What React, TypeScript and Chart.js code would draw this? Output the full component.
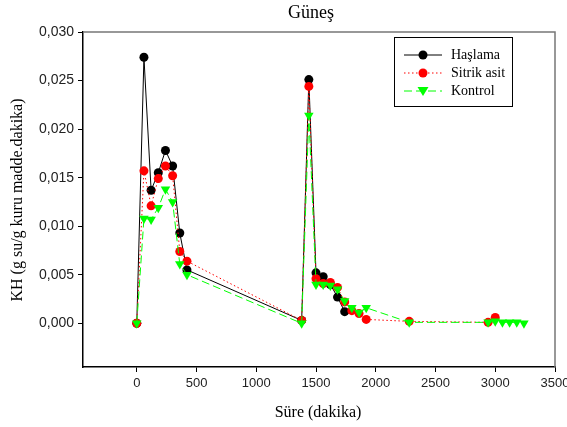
import React, { useEffect, useRef } from "react";
import { Chart, registerables } from "chart.js";

Chart.register(...registerables);

// Drying rate (KH) over time, three pretreatments
const haslamaTime = [0, 60, 120, 180, 240, 300, 360, 420, 1380, 1440, 1500, 1560, 1620, 1680, 1740];
const haslamaKH = [0, 0.0274, 0.0137, 0.0155, 0.0178, 0.0162, 0.0093, 0.0055, 0.0003, 0.0251, 0.0052, 0.0048, 0.004, 0.0027, 0.0012];

const sitrikTime = [0, 60, 120, 180, 240, 300, 360, 420, 1380, 1440, 1500, 1560, 1620, 1680, 1740, 1800, 1860, 1920, 2280, 2940, 3000];
const sitrikKH = [0, 0.0157, 0.0121, 0.0149, 0.0162, 0.0152, 0.0074, 0.0064, 0.0003, 0.0244, 0.0046, 0.0041, 0.0042, 0.0037, 0.0022, 0.0013, 0.001, 0.0004, 0.0002, 0.0001, 0.0006];

const kontrolTime = [0, 60, 120, 180, 240, 300, 360, 420, 1380, 1440, 1500, 1560, 1620, 1680, 1740, 1800, 1860, 1920, 2280, 2940, 3000, 3060, 3120, 3180, 3240];
const kontrolKH = [0, 0.0108, 0.0107, 0.0119, 0.0138, 0.0125, 0.0061, 0.005, 0.0, 0.0214, 0.004, 0.004, 0.0039, 0.0035, 0.0023, 0.0016, 0.0011, 0.0016, 0.0001, 0.0001, 0.0002, 0.0001, 0.0001, 0.0001, 0.0];

const seriesNames = ["Haşlama", "Sitrik asit", "Kontrol"];

const yTickValues = [0, 0.005, 0.01, 0.015, 0.02, 0.025, 0.03];
const yTickLabels = ["0,000", "0,005", "0,010", "0,015", "0,020", "0,025", "0,030"];
const xTickValues = [0, 500, 1000, 1500, 2000, 2500, 3000, 3500];
const xTickLabels = ["0", "500", "1000", "1500", "2000", "2500", "3000", "3500"];

const chartTitle = "Güneş";
const xTitle = "Süre (dakika)";
const yTitle = "KH (g su/g kuru madde.dakika)";

const SERIF = "'Liberation Serif', 'Times New Roman', serif";
const SANS = "'Liberation Sans', Arial, sans-serif";

const toPoints = (xs: number[], ys: number[]) => xs.map((x, i) => ({ x, y: ys[i] }));

const labelFor = (values: number[], labels: string[], v: number) => {
  const i = values.findIndex((t) => Math.abs(t - v) < 1e-9);
  return i >= 0 ? labels[i] : "";
};

function drawMarker(ctx: CanvasRenderingContext2D, kind: string, x: number, y: number, color: string) {
  ctx.save();
  ctx.fillStyle = color;
  ctx.beginPath();
  if (kind === "circle") {
    ctx.arc(x, y, 4.5, 0, Math.PI * 2);
  } else {
    ctx.moveTo(x - 5.5, y - 4);
    ctx.lineTo(x + 5.5, y - 4);
    ctx.lineTo(x, y + 5);
    ctx.closePath();
  }
  ctx.fill();
  ctx.restore();
}

const decorations = {
  id: "decorations",
  afterDraw(chart: Chart) {
    const { ctx, chartArea } = chart;
    const { left, right, top, bottom } = chartArea;
    ctx.save();

    // frame on top and right
    ctx.strokeStyle = "#777";
    ctx.lineWidth = 1.5;
    ctx.beginPath();
    ctx.moveTo(left, top);
    ctx.lineTo(right, top);
    ctx.lineTo(right, bottom);
    ctx.stroke();

    // title and axis titles
    ctx.fillStyle = "#000";
    ctx.textAlign = "center";
    ctx.textBaseline = "middle";
    ctx.font = `18px ${SERIF}`;
    ctx.fillText(chartTitle, 311, 13);
    ctx.font = `16px ${SERIF}`;
    ctx.fillText(xTitle, 318, 413);
    ctx.save();
    ctx.translate(18, 200);
    ctx.rotate(-Math.PI / 2);
    ctx.fillText(yTitle, 0, 0);
    ctx.restore();

    // legend box
    const bx = 394.5, by = 37.5, bw = 118, bh = 69;
    ctx.fillStyle = "#fff";
    ctx.fillRect(bx, by, bw, bh);
    ctx.strokeStyle = "#000";
    ctx.lineWidth = 1;
    ctx.strokeRect(bx, by, bw, bh);
    const rows = [
      { y: 55, color: "#000", dash: [] as number[], marker: "circle" },
      { y: 73, color: "#ff0000", dash: [1.5, 2.5], marker: "circle" },
      { y: 91, color: "#00ff00", dash: [8, 4], marker: "triangle" },
    ];
    rows.forEach((r, i) => {
      ctx.save();
      ctx.strokeStyle = r.color;
      ctx.lineWidth = 1;
      ctx.setLineDash(r.dash);
      ctx.beginPath();
      ctx.moveTo(404, r.y);
      ctx.lineTo(442, r.y);
      ctx.stroke();
      ctx.restore();
      drawMarker(ctx, r.marker, 423, r.y, r.color);
      ctx.fillStyle = "#000";
      ctx.textAlign = "left";
      ctx.textBaseline = "middle";
      ctx.font = `14px ${SERIF}`;
      ctx.fillText(seriesNames[i], 451, r.y);
    });
    ctx.restore();
  },
};

export default function App() {
  const canvasRef = useRef<HTMLCanvasElement | null>(null);

  useEffect(() => {
    document.body.style.margin = "0";
    const canvas = canvasRef.current;
    if (!canvas) return;

    const chart = new Chart(canvas, {
      type: "line",
      data: {
        datasets: [
          {
            label: seriesNames[0],
            data: toPoints(haslamaTime, haslamaKH),
            borderColor: "#000",
            backgroundColor: "#000",
            borderWidth: 1,
            pointStyle: "circle",
            pointRadius: 4.5,
            pointBorderWidth: 0,
            order: 2,
          },
          {
            label: seriesNames[1],
            data: toPoints(sitrikTime, sitrikKH),
            borderColor: "#ff0000",
            backgroundColor: "#ff0000",
            borderWidth: 1,
            borderDash: [1.5, 2.5],
            pointStyle: "circle",
            pointRadius: 4.5,
            pointBorderWidth: 0,
            order: 1,
          },
          {
            label: seriesNames[2],
            data: toPoints(kontrolTime, kontrolKH),
            borderColor: "#00ff00",
            backgroundColor: "#00ff00",
            borderWidth: 1,
            borderDash: [8, 4],
            pointStyle: "triangle",
            pointRotation: 180,
            pointRadius: 5.5,
            pointBorderWidth: 0,
            order: 0,
          },
        ],
      },
      options: {
        responsive: false,
        animation: false,
        devicePixelRatio: 1,
        layout: { padding: { left: 0, top: 32, right: 12, bottom: 0 } },
        plugins: {
          legend: { display: false },
          title: { display: false },
          tooltip: { enabled: false },
        },
        elements: { line: { tension: 0 } },
        scales: {
          x: {
            type: "linear",
            min: -450,
            max: 3500,
            afterBuildTicks: (s: any) => {
              s.ticks = xTickValues.map((v) => ({ value: v }));
            },
            afterFit: (s: any) => {
              s.height = 60;
              s.paddingLeft = 0;
              s.paddingRight = 0;
            },
            ticks: {
              callback: (v: any) => labelFor(xTickValues, xTickLabels, Number(v)),
              font: { family: SANS, size: 13 },
              color: "#222",
              padding: 4,
              maxRotation: 0,
              autoSkip: false,
            },
            grid: { display: true, drawOnChartArea: false, drawTicks: true, tickLength: 5, color: "#000", lineWidth: 1 },
            border: { display: true, color: "#000", width: 1.5 },
          },
          y: {
            type: "linear",
            min: -0.0045,
            max: 0.03,
            afterBuildTicks: (s: any) => {
              s.ticks = yTickValues.map((v) => ({ value: v }));
            },
            afterFit: (s: any) => {
              s.width = 83;
              s.paddingTop = 0;
              s.paddingBottom = 0;
            },
            ticks: {
              callback: (v: any) => labelFor(yTickValues, yTickLabels, Number(v)),
              font: { family: SANS, size: 14 },
              color: "#222",
              padding: 4,
              autoSkip: false,
            },
            grid: { display: true, drawOnChartArea: false, drawTicks: true, tickLength: 5, color: "#000", lineWidth: 1 },
            border: { display: true, color: "#000", width: 1.5 },
          },
        },
      },
      plugins: [decorations],
    } as any);

    return () => chart.destroy();
  }, []);

  return (
    <div style={{ position: "absolute", left: 0, top: 0, width: 567, height: 427, background: "#fff" }}>
      <canvas ref={canvasRef} width={567} height={427} style={{ display: "block" }} />
    </div>
  );
}
